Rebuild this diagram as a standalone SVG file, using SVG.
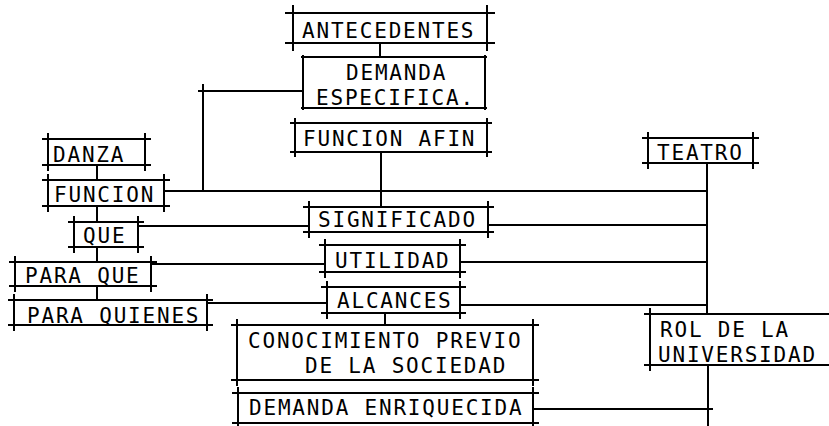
<svg xmlns="http://www.w3.org/2000/svg" width="829" height="426" viewBox="0 0 829 426">
<style>
.b{fill:none;stroke:#000;stroke-width:2;stroke-linecap:square}
.c{fill:none;stroke:#000;stroke-width:2}
text{font-family:"DejaVu Sans Mono","Liberation Mono",monospace;font-size:21px;letter-spacing:1.8px;fill:#000}
</style>
<rect width="829" height="426" fill="#fff"/>
<g id="connectors">
<path class="c" d="M380 43V57"/>
<path class="c" d="M198 91H303M203 84V191"/>
<path class="c" d="M164 191H708"/>
<path class="c" d="M381 152V207"/>
<path class="c" d="M138 226H309"/>
<path class="c" d="M488 225H708"/>
<path class="c" d="M151 264H325"/>
<path class="c" d="M460 262H708"/>
<path class="c" d="M207 303H327"/>
<path class="c" d="M460 305H708"/>
<path class="c" d="M385 313V325"/>
<path class="c" d="M533 409H713"/>
<path class="c" d="M707 163V314"/>
<path class="c" d="M708 365V426"/>
<path class="c" d="M97 165V180M97 206V222M97 247V262M97 286V300"/>
</g>
<g id="antecedentes"><path class="b" d="M286 13H494M286 43H494M293 6V50M487 6V50"/><text x="302" y="38">ANTECEDENTES</text></g>
<g id="demanda-especifica"><path class="b" d="M302 57H486M302 108H486M303 56V109M485 56V109"/><text x="346" y="80">DEMANDA</text><text x="316" y="105">ESPECIFICA.</text></g>
<g id="funcion-afin"><path class="b" d="M291 123H491M291 152H491M295 119V156M487 119V156"/><text x="303" y="146">FUNCION AFIN</text></g>
<g id="significado"><path class="b" d="M304 207H493M304 232H493M309 202V237M488 202V237"/><text x="318" y="227">SIGNIFICADO</text></g>
<g id="utilidad"><path class="b" d="M320 245H465M320 272H465M325 240V277M460 240V277"/><text x="335" y="268">UTILIDAD</text></g>
<g id="alcances"><path class="b" d="M322 287H465M322 313H465M327 282V318M460 282V318"/><text x="337" y="308">ALCANCES</text></g>
<g id="conocimiento"><path class="b" d="M232 325H538M232 380H538M237 320V385M533 320V385"/><text x="248" y="348">CONOCIMIENTO PREVIO</text><text x="305" y="373">DE LA SOCIEDAD</text></g>
<g id="demanda-enriquecida"><path class="b" d="M233 393H538M233 423H538M238 388V428M533 388V428"/><text x="249" y="415">DEMANDA ENRIQUECIDA</text></g>
<g id="danza"><path class="b" d="M43 139H150M43 165H150M48 134V170M145 134V170"/><text x="53" y="162">DANZA</text></g>
<g id="funcion"><path class="b" d="M43 180H169M43 206H169M48 175V211M164 175V211"/><text x="54" y="202">FUNCION</text></g>
<g id="que"><path class="b" d="M69 222H143M69 247H143M74 217V252M138 217V252"/><text x="83" y="243">QUE</text></g>
<g id="para-que"><path class="b" d="M10 262H156M10 286H156M15 257V291M151 257V291"/><text x="25" y="283">PARA QUE</text></g>
<g id="para-quienes"><path class="b" d="M9 300H212M9 325H212M14 295V330M207 295V330"/><text x="27" y="323">PARA QUIENES</text></g>
<g id="teatro"><path class="b" d="M643 138H758M643 163H758M648 133V168M753 133V168"/><text x="657" y="160">TEATRO</text></g>
<g id="rol-universidad"><path class="b" d="M645 314H829M645 365H829M650 309V370"/><text x="660" y="337">ROL DE LA</text><text x="658" y="362">UNIVERSIDAD</text></g>
</svg>
